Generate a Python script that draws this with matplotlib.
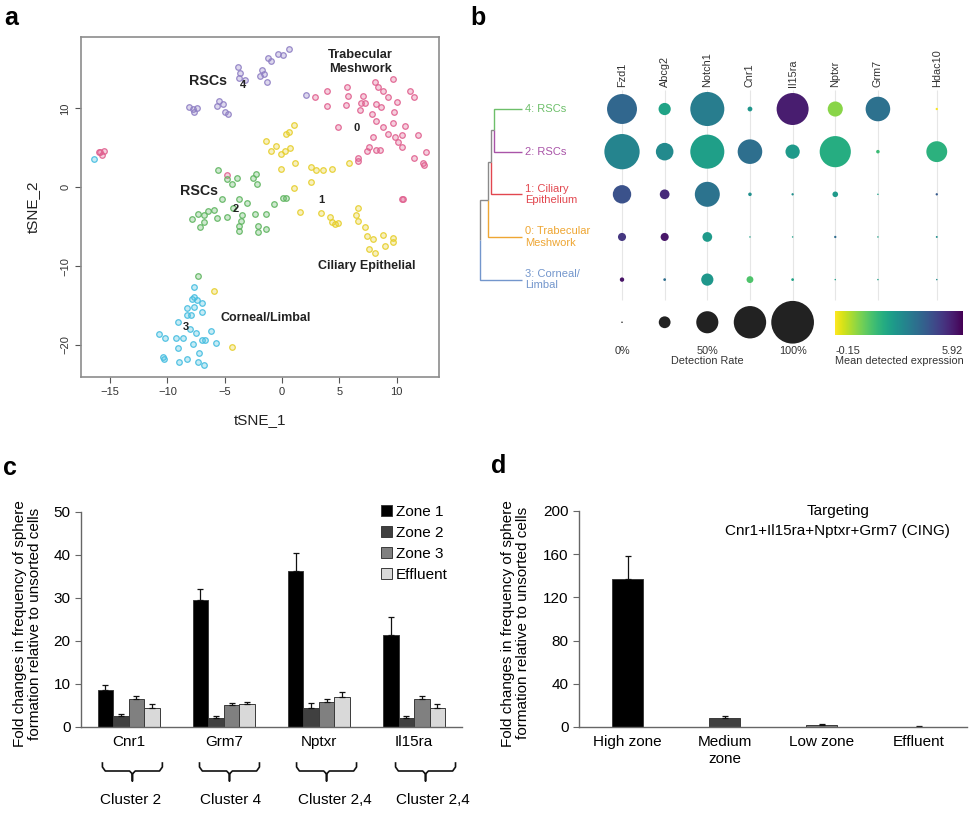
import matplotlib
matplotlib.use('Agg')
import matplotlib.pyplot as plt
import matplotlib.transforms as mtransforms
from matplotlib.patches import Patch
import numpy as np

plt.rcParams['font.family'] = ['Liberation Sans', 'DejaVu Sans']

# ---------------- panel a : tSNE clusters ----------------
c0_x = [2.88, 3.95, 3.95, 4.85, 5.64, 5.78, 5.58, 7.03, 6.86, 6.80, 7.24, 8.11, 8.34, 8.84, 9.27,
        9.65, 10.0, 8.2, 8.63, 7.85, 8.2, 8.84, 9.8, 9.71, 10.73, 11.16, 11.51, 7.91, 9.27, 9.85,
        10.47, 10.15, 10.49, 7.62, 7.38, 8.17, 8.58, 6.66, 6.66, 11.89, 11.54, 12.56, 12.33, 12.38,
        10.52, 10.45, -15.87, -15.73, -15.49, -15.95, -4.77]
c0_y = [11.39, 12.24, 10.34, 7.68, 12.75, 11.61, 10.42, 11.61, 10.63, 9.79, 10.63, 13.3, 12.66, 12.24, 11.48,
        13.76, 10.8, 10.55, 10.13, 9.28, 8.35, 7.68, 9.49, 8.1, 7.76, 12.2, 11.39, 6.41, 6.75, 6.41,
        6.66, 5.69, 5.1, 5.14, 4.59, 4.72, 4.72, 3.66, 3.37, 6.66, 3.66, 4.42, 3.03, 2.78,
        -1.49, -1.45, 4.42, 4.09, 4.59, 4.45, 1.59]
c1_x = [-1.42, -0.96, -0.55, -0.09, 0.29, 0.70, 0.32, 0.64, 1.05, 1.16, -0.09, 1.02, 1.6, 2.5, 2.99,
        3.55, 4.36, 2.5, 3.37, 4.19, 4.39, 4.62, 4.85, 5.81, 6.6, 6.45, 6.66, 7.24, 7.41, 7.97,
        8.84, 8.98, 9.65, 9.71, 7.62, 8.11, -5.9, -4.33]
c1_y = [5.86, 4.63, 5.27, 4.21, 4.63, 4.93, 6.7, 6.96, 7.85, 3.11, 2.27, -0.1, -3.14, 2.61, 2.18,
        2.23, 2.31, 0.71, -3.22, -3.81, -4.36, -4.7, -4.58, 3.07, -2.67, -3.52, -4.24, -5.0, -6.18, -6.52,
        -6.1, -7.45, -6.94, -6.43, -7.87, -8.38, -13.15, -20.29]
c2_x = [-5.58, -4.8, -4.39, -3.92, -2.56, -2.24, -2.21, -5.26, -3.72, -3.05, -0.7, 0.09, 0.35, -7.82, -7.30,
        -6.8, -6.42, -5.93, -5.7, -4.8, -7.15, -6.8, -4.24, -3.46, -3.55, -2.33, -1.4, -3.75, -3.72, -2.12,
        -2.09, -1.4, -7.35]
c2_y = [2.14, 1.04, 0.41, 1.21, 1.13, 1.68, 0.37, -1.45, -1.53, -2.04, -2.17, -1.32, -1.32, -3.98, -3.43,
        -3.52, -2.97, -2.89, -3.9, -3.81, -5.0, -4.36, -2.67, -3.48, -4.24, -3.35, -3.43, -4.91, -5.5, -4.91,
        -5.63, -5.29, -11.21]
c3_x = [-7.65, -7.65, -7.82, -7.44, -6.95, -7.65, -6.95, -8.26, -8.31, -7.97, -9.04, -8.02, -7.5, -6.22, -7.01,
        -6.74, -7.79, -8.6, -9.22, -10.17, -10.7, -5.73, -9.04, -7.24, -10.35, -10.26, -8.98, -8.26, -7.3, -6.8,
        -16.37]
c3_y = [-12.64, -13.87, -14.17, -14.29, -14.71, -15.14, -15.86, -15.35, -16.24, -16.15, -17.04, -17.97, -18.52, -18.18, -19.36,
        -19.36, -19.87, -19.07, -19.07, -19.07, -18.6, -19.78, -20.42, -21.05, -21.56, -21.81, -22.15, -21.81, -22.11, -22.49,
        3.58]
c4_x = [-8.11, -7.73, -7.65, -7.38, -5.64, -5.49, -5.12, -4.97, -4.68, -3.81, -3.66, -3.72, -3.23, -1.77, -1.92,
        -1.54, -1.34, -1.25, -0.99, -0.38, 0.06, 0.58, 2.09]
c4_y = [10.21, 9.92, 9.58, 10.08, 10.34, 10.93, 10.51, 9.58, 9.24, 15.2, 14.52, 13.84, 13.59, 14.86, 14.1,
        14.35, 13.38, 16.34, 15.96, 16.84, 16.76, 17.48, 11.73]
tsne_colors = ['#e0608f', '#e6cf2c', '#5fb560', '#45bde0', '#8f7fc4']

# ---------------- panel b : dot plot ----------------
dot_genes = ['Fzd1', 'Abcg2', 'Notch1', 'Cnr1', 'Il15ra', 'Nptxr', 'Grm7', 'Hdac10']
dot_clusters = ['4: RSCs', '2: RSCs', '1: Ciliary\nEpithelium', '0: Trabecular\nMeshwork', '3: Corneal/\nLimbal']
dot_cluster_colors = ['#6dbf6a', '#a954a8', '#e2474f', '#eea633', '#7396cc']
detection = [
    [0.69, 0.26, 0.79, 0.08, 0.74, 0.33, 0.56, 0.02],
    [0.82, 0.39, 0.79, 0.56, 0.31, 0.72, 0.05, 0.47],
    [0.41, 0.20, 0.57, 0.05, 0.02, 0.10, 0.00, 0.02],
    [0.16, 0.16, 0.20, 0.00, 0.00, 0.02, 0.00, 0.01],
    [0.07, 0.03, 0.26, 0.13, 0.03, 0.00, 0.00, 0.00],
]
expression = [
    [3.92, 2.40, 3.37, 2.76, 5.43, 0.94, 3.67, -0.10],
    [3.19, 3.05, 2.52, 3.73, 2.64, 2.16, 1.79, 2.04],
    [4.40, 5.19, 3.61, 2.90, 2.90, 2.64, 2.50, 4.20],
    [4.95, 5.55, 2.64, 2.50, 2.50, 3.80, 2.50, 2.90],
    [5.60, 3.73, 2.70, 1.55, 2.40, 2.50, 2.50, 3.00],
]
expr_min, expr_max = -0.15, 5.92
# dendrogram merges: (child, child, height); leaves are rows 0..4
dendro_merges = [(0, 1, 0.65), (5, 2, 0.72), (6, 3, 0.79), (7, 4, 0.98)]
legend_rates = [0.0, 0.25, 0.5, 0.75, 1.0]

# ---------------- panel c ----------------
genes_c = ['Cnr1', 'Grm7', 'Nptxr', 'Il15ra']
clusters_c = ['Cluster 2', 'Cluster 4', 'Cluster 2,4', 'Cluster 2,4']
zones = ['Zone 1', 'Zone 2', 'Zone 3', 'Effluent']
zone_vals = [[8.7, 29.4, 36.2, 21.3],
             [2.5, 2.1, 4.5, 2.2],
             [6.5, 5.05, 5.8, 6.4],
             [4.4, 5.3, 7.0, 4.4]]
zone_err = [[1.15, 2.6, 4.1, 4.3],
            [0.6, 0.55, 1.1, 0.45],
            [0.6, 0.6, 0.7, 0.7],
            [1.0, 0.45, 1.2, 1.0]]
zone_colors = ['#000000', '#404040', '#808080', '#d9d9d9']

# ---------------- panel d ----------------
zones_d = ['High zone', 'Medium\nzone', 'Low zone', 'Effluent']
cing_vals = [137.4, 7.9, 2.1, 0.4]
cing_err = [21.3, 2.2, 0.7, 0.2]

W, H = 972, 814
fig = plt.figure(figsize=(W / 100, H / 100), dpi=100)


def px_axes(l, t, r, b):
    return fig.add_axes([l / W, 1 - b / H, (r - l) / W, (b - t) / H])


# ===== a =====
ax = px_axes(81, 37, 439, 377)
for xs, ys, col in zip([c0_x, c1_x, c2_x, c3_x, c4_x], [c0_y, c1_y, c2_y, c3_y, c4_y], tsne_colors):
    ax.scatter(xs, ys, s=16, facecolors=matplotlib.colors.to_rgba(col, 0.3),
               edgecolors=matplotlib.colors.to_rgba(col, 0.9), linewidths=0.9)
ax.set_xlim(-17.53, 13.69)
ax.set_ylim(-24.06, 19.04)
ax.set_xticks([-15, -10, -5, 0, 5, 10])
ax.set_yticks([-20, -10, 0, 10])
ax.tick_params(labelsize=8, colors='#555555', labelcolor='#333333', length=4)
ax.tick_params(axis='y', labelrotation=90)
for lab in ax.get_yticklabels():
    lab.set_va('center')
for s in ax.spines.values():
    s.set_color('#8c8c8c')
    s.set_linewidth(1.2)
ax.set_xlabel('tSNE_1', fontsize=11, color='#222222')
ax.set_ylabel('tSNE_2', fontsize=11, color='#222222')
ax.xaxis.set_label_coords(0.5, -0.105)
ax.yaxis.set_label_coords(-0.115, 0.5)
kw = dict(ha='center', va='center', fontweight='bold', color='#222222')
ax.text(6.86, 15.9, 'Trabecular\nMeshwork', fontsize=9.3, **kw)
ax.text(-6.42, 13.5, 'RSCs', fontsize=10.3, **kw)
ax.text(-3.37, 12.9, '4', fontsize=8, **kw)
ax.text(6.5, 7.55, '0', fontsize=8, **kw)
ax.text(-7.2, -0.43, 'RSCs', fontsize=10.3, **kw)
ax.text(-4.0, -2.8, '2', fontsize=8, **kw)
ax.text(3.46, -1.62, '1', fontsize=8, **kw)
ax.text(7.38, -9.98, 'Ciliary Epithelial', fontsize=9, **kw)
ax.text(-1.42, -16.53, 'Corneal/Limbal', fontsize=9, **kw)
ax.text(-8.37, -17.76, '3', fontsize=8, **kw)

# ===== b =====
bx = px_axes(470, 20, 970, 380)
bx.set_xlim(-3.564, 8.159)
bx.set_ylim(6.354, -2.087)
bx.axis('off')
gene_x = np.arange(len(dot_genes), dtype=float)
gene_x[-1] += 0.38
n_rows = len(dot_clusters)


def dot_size(rate):
    d_px = 1.5 + 41.2 * np.asarray(rate)
    return (d_px * 0.72) ** 2


bx.vlines(gene_x, -0.45, 4.48, color='#e6e6e6', lw=0.8, zorder=1)
gx, gy = np.meshgrid(gene_x, np.arange(n_rows))
bx.scatter(gx.ravel(), gy.ravel(), s=dot_size(np.ravel(detection)), c=np.ravel(expression),
           cmap='viridis_r', vmin=expr_min, vmax=expr_max, edgecolors='none', zorder=3)
for x, g in zip(gene_x, dot_genes):
    bx.text(x, -0.52, g, rotation=90, ha='center', va='bottom', fontsize=7.8, color='#333333')

# dendrogram
leaf_end = -2.35
node_x = {i: leaf_end for i in range(n_rows)}
node_y = {i: float(i) for i in range(n_rows)}
for k, (a, b, h) in enumerate(dendro_merges):
    nid = n_rows + k
    nx = leaf_end - h
    ny = (node_y[a] + node_y[b]) / 2
    for c in (a, b):
        col = dot_cluster_colors[c] if c < n_rows else '#8a8a8a'
        bx.plot([nx, nx, node_x[c]], [ny, node_y[c], node_y[c]], color=col, lw=1.0,
                solid_joinstyle='miter', solid_capstyle='butt')
    node_x[nid] = nx
    node_y[nid] = ny
for i, (lab, col) in enumerate(zip(dot_clusters, dot_cluster_colors)):
    bx.text(-2.27, i, lab, ha='left', va='center', fontsize=8, color=col, linespacing=1.15)

# size legend and colour bar
leg_x = np.arange(len(legend_rates))
bx.scatter(leg_x, np.full(len(legend_rates), 5.0), s=dot_size(legend_rates), color='#222222',
           edgecolors='none', zorder=3)
tkw = dict(fontsize=7.8, color='#333333', va='center')
bx.text(0, 5.67, '0%', ha='center', **tkw)
bx.text(2, 5.67, '50%', ha='center', **tkw)
bx.text(4, 5.67, '100%', ha='center', **tkw)
bx.text(2, 5.91, 'Detection Rate', ha='center', **tkw)
grad = np.linspace(0, 1, 256).reshape(1, -1)
bx.imshow(grad, cmap='viridis_r', extent=[5, 8, 5.3, 4.75], aspect='auto', zorder=2)
bx.set_xlim(-3.564, 8.159)
bx.set_ylim(6.354, -2.087)
bx.text(5, 5.67, '%.2f' % expr_min, ha='left', **tkw)
bx.text(8, 5.67, '%.2f' % expr_max, ha='right', **tkw)
bx.text(5, 5.91, 'Mean detected expression', ha='left', **tkw)

ylab = 'Fold changes in frequency of sphere\nformation relative to unsorted cells'


def style_bar_axes(a):
    for s in ('top', 'right'):
        a.spines[s].set_visible(False)
    for s in ('left', 'bottom'):
        a.spines[s].set_color('#666666')
        a.spines[s].set_linewidth(1.0)
    a.tick_params(axis='y', labelsize=11, length=4, color='#666666', direction='out')
    a.tick_params(axis='x', labelsize=11, length=0, pad=6)


# ===== c =====
cx = px_axes(81, 511.7, 461.7, 727)
w = 0.163
xc = np.arange(len(genes_c))
for k, (lab, vals, errs, col) in enumerate(zip(zones, zone_vals, zone_err, zone_colors)):
    cx.bar(xc + (k - 1.5) * w, vals, w, color=col, edgecolor='#3a3a3a', linewidth=0.7, label=lab,
           yerr=[np.zeros(len(errs)), errs], error_kw=dict(ecolor='#111111', elinewidth=0.9,
                                                            capsize=2.2, capthick=0.9))
cx.set_xlim(-0.5, 3.5)
cx.set_ylim(0, 50)
cx.set_yticks(range(0, 51, 10))
cx.set_xticks(xc)
cx.set_xticklabels(genes_c)
style_bar_axes(cx)
cx.set_ylabel(ylab, fontsize=11, linespacing=1.1)
cx.yaxis.set_label_coords(-0.102, 0.48)
handles = [Patch(facecolor=c, edgecolor='#3a3a3a', linewidth=0.7) for c in zone_colors]
cx.legend(handles, zones, loc='upper left', bbox_to_anchor=(381 / W, 1 - 505 / H),
          bbox_transform=fig.transFigure, frameon=False, fontsize=11, handlelength=0.7,
          handleheight=0.7, handletextpad=0.25, labelspacing=0.45, borderpad=0, borderaxespad=0)
trans = mtransforms.blended_transform_factory(cx.transData, fig.transFigure)
shift = [0.04, 0.06, 0.08, 0.12]
label_shift = [0.02, 0.07, 0.17, 0.2]
hw = 0.315
for x0, sh, lsh, lab in zip(xc, shift, label_shift, clusters_c):
    c0 = x0 + sh
    bxs = [c0 - hw, c0 - hw, c0 - hw + 0.03, c0 - 0.03, c0, c0, c0, c0 + 0.03, c0 + hw - 0.03, c0 + hw, c0 + hw]
    bys = [763, 767, 771, 771, 774, 781, 774, 771, 771, 767, 763]
    cx.plot(bxs, [1 - y / H for y in bys], color='#111111', lw=1.2, transform=trans, clip_on=False)
    cx.text(x0 + lsh, 1 - 800 / H, lab, ha='center', va='center', fontsize=11, transform=trans)

# ===== d =====
dx = px_axes(579, 511, 967, 727)
xd = np.arange(len(zones_d))
dx.bar(xd, cing_vals, 0.315, color=zone_colors, edgecolor='#3a3a3a', linewidth=0.7,
       yerr=[np.zeros(len(cing_err)), cing_err],
       error_kw=dict(ecolor='#111111', elinewidth=0.9, capsize=2.2, capthick=0.9))
dx.set_xlim(-0.5, 3.5)
dx.set_ylim(0, 200)
dx.set_yticks(range(0, 201, 40))
dx.set_xticks(xd)
dx.set_xticklabels(zones_d, linespacing=1.2)
style_bar_axes(dx)
dx.set_ylabel(ylab, fontsize=11, linespacing=1.1)
dx.yaxis.set_label_coords(-0.126, 0.48)
dx.text(0.667, 1.0, 'Targeting', transform=dx.transAxes, ha='center', va='center', fontsize=11)
dx.text(0.667, 0.907, 'Cnr1+Il15ra+Nptxr+Grm7 (CING)', transform=dx.transAxes, ha='center',
        va='center', fontsize=11)

# panel letters
for lx, ly, letter in [(11, 25, 'a'), (478, 25, 'b'), (10, 475, 'c'), (499, 473, 'd')]:
    fig.text(lx / W, 1 - ly / H, letter, fontsize=18, fontweight='bold', ha='center', va='baseline')

fig.savefig('out.png', dpi=100)
